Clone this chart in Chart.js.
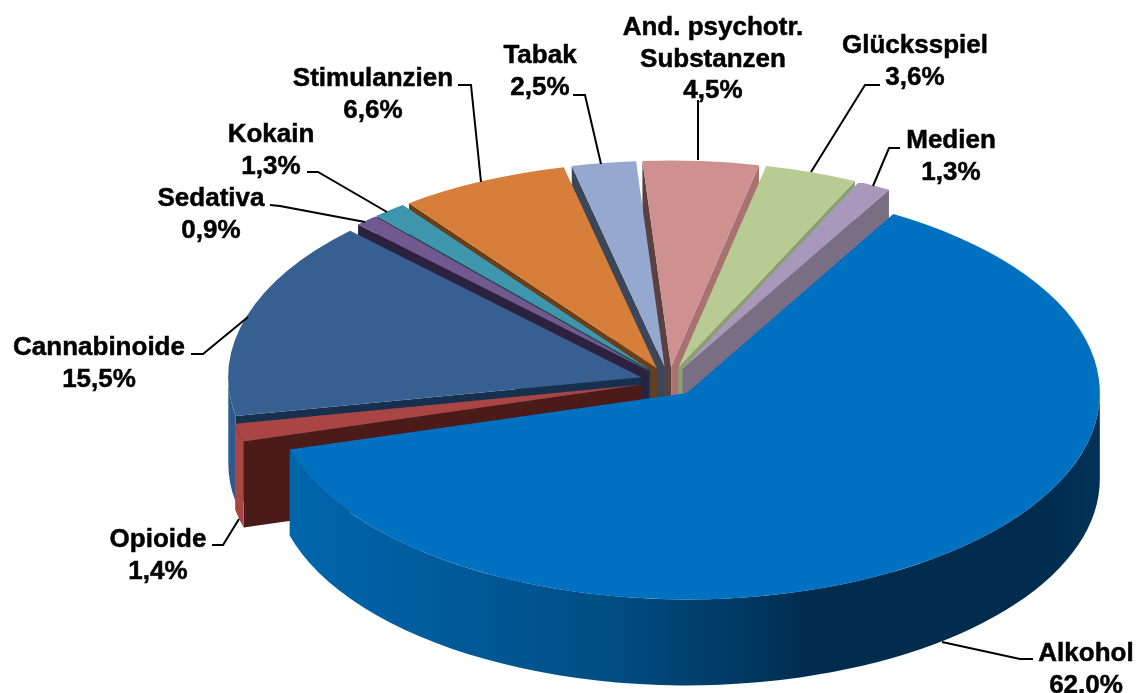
<!DOCTYPE html>
<html lang="de">
<head>
<meta charset="utf-8">
<title>Hauptdiagnosen</title>
<script src="https://cdn.jsdelivr.net/npm/chart.js@4"></script>
<style>
  html, body { margin: 0; background: #fff; }
  #wrap { position: relative; width: 1136px; height: 693px; overflow: hidden; }
</style>
</head>
<body>
<div id="wrap"><canvas id="pie3d"></canvas></div>
<script>
const categories = ['Alkohol', 'Opioide', 'Cannabinoide', 'Sedativa', 'Kokain',
    'Stimulanzien', 'Tabak', 'And. psychotr. Substanzen', 'Glücksspiel', 'Medien'];
const shares = [62.0, 1.4, 15.5, 0.9, 1.3, 6.6, 2.5, 4.5, 3.6, 1.3];

const topColors = ['#0070c0', '#a94543', '#376092', '#71588f', '#3e96ae',
    '#d77e3a', '#95a9d0', '#cf9090', '#b7cb92', '#a899bc'];
const rimColors = ['#00457c', '#a94543', '#2f5a8e', '#5a4675', '#2f7a8e',
    '#b96a2e', '#7a8cb0', '#b07a7a', '#9cb07c', '#8f82a0'];
const startFaceColors = ['#00345c', '#4a1b18', '#17304d', '#2c2240', '#1f4b57',
    '#6a3e16', '#3b4759', '#5a4040', '#7f9266', '#6b6078'];
const endFaceColors = ['#00345c', '#4a1b18', '#17304d', '#2c2240', '#1f4b57',
    '#6a3e16', '#4a5670', '#a87272', '#8aa070', '#7a6e85'];

// label text blocks: one entry per slice
const labelLines = [['Alkohol', '62,0%'], ['Opioide', '1,4%'], ['Cannabinoide', '15,5%'],
    ['Sedativa', '0,9%'], ['Kokain', '1,3%'], ['Stimulanzien', '6,6%'], ['Tabak', '2,5%'],
    ['And. psychotr.', 'Substanzen', '4,5%'], ['Glücksspiel', '3,6%'], ['Medien', '1,3%']];
const labelCenters = [[1086, 654], [158, 540], [99, 348], [211, 199], [271, 135],
    [373, 79], [540, 56], [713, 28], [915, 46], [951, 141]];
const labelLineGap = 31.5;
const leaderLines = [
    [[1033, 659], [1020, 659], [942, 642]],
    [[212, 545], [223, 545], [239, 519]],
    [[191, 354], [203, 354], [248, 317]],
    [[270, 205], [280, 206], [365, 222]],
    [[307, 172], [318, 172], [387, 212]],
    [[458, 85], [471, 85], [481, 182]],
    [[573, 95], [585, 95], [601, 164]],
    [[698, 100], [698, 160]],
    [[880, 85], [865, 85], [811, 172]],
    [[900, 148], [889, 148], [873, 186]]
];

const SQUASH = 0.5;
const DEPTH = 86;
const RADIUS = 413;
const EXPLODE = 29;
const ROTATION = 30;

function drawWalls(chart) {
    const ctx = chart.ctx;
    const arcs = chart.getDatasetMeta(0).data;
    const order = arcs.map((el, i) => i).sort((a, b) =>
        Math.sin((arcs[a].startAngle + arcs[a].endAngle) / 2) - Math.sin((arcs[b].startAngle + arcs[b].endAngle) / 2));

    order.forEach(i => {
        const el = arcs[i];
        const mid = (el.startAngle + el.endAngle) / 2;
        const x0 = el.x + Math.cos(mid) * EXPLODE;
        const y0 = el.y + Math.sin(mid) * EXPLODE * SQUASH;

        const face = (angle, color) => {
            const xr = x0 + Math.cos(angle) * RADIUS;
            const yr = y0 + Math.sin(angle) * RADIUS * SQUASH;
            ctx.beginPath();
            ctx.moveTo(x0, y0);
            ctx.lineTo(xr, yr);
            ctx.lineTo(xr, yr + DEPTH);
            ctx.lineTo(x0, y0 + DEPTH);
            ctx.closePath();
            ctx.fillStyle = color;
            ctx.fill();
        };
        if (Math.cos(el.startAngle) < 0) face(el.startAngle, startFaceColors[i]);
        if (Math.cos(el.endAngle) > 0) face(el.endAngle, endFaceColors[i]);

        // rim only where the circle faces the viewer
        const a1 = Math.max(el.startAngle, 0);
        const a2 = Math.min(el.endAngle, Math.PI);
        if (a2 > a1) {
            ctx.beginPath();
            ctx.ellipse(x0, y0, RADIUS, RADIUS * SQUASH, 0, a1, a2);
            ctx.ellipse(x0, y0 + DEPTH, RADIUS, RADIUS * SQUASH, 0, a2, a1, true);
            ctx.closePath();
            if (i === 0) {
                const grad = ctx.createLinearGradient(289, 0, 1100, 0);
                grad.addColorStop(0, '#0066ab');
                grad.addColorStop(0.15, '#005d9f');
                grad.addColorStop(0.38, '#004f86');
                grad.addColorStop(0.51, '#003f6d');
                grad.addColorStop(0.64, '#002d4f');
                grad.addColorStop(0.92, '#002b4d');
                grad.addColorStop(1, '#003358');
                ctx.fillStyle = grad;
            } else {
                ctx.fillStyle = rimColors[i];
            }
            ctx.fill();
        }
    });
}

const pie3dPlugin = {
    id: 'pie3d',
    beforeDatasetsDraw(chart) {
        drawWalls(chart);
    },
    // tops are drawn here so each arc can be squashed and pulled out by the same gap
    beforeDatasetDraw(chart) {
        const ctx = chart.ctx;
        chart.getDatasetMeta(0).data.forEach(el => {
            const mid = (el.startAngle + el.endAngle) / 2;
            ctx.save();
            ctx.translate(0, el.y);
            ctx.scale(1, SQUASH);
            ctx.translate(Math.cos(mid) * EXPLODE, Math.sin(mid) * EXPLODE - el.y);
            el.draw(ctx);
            ctx.restore();
        });
        return false;
    },
    afterDraw(chart) {
        const ctx = chart.ctx;
        ctx.save();
        ctx.strokeStyle = '#000';
        ctx.lineWidth = 2;
        leaderLines.forEach(pts => {
            ctx.beginPath();
            pts.forEach((p, n) => n ? ctx.lineTo(p[0], p[1]) : ctx.moveTo(p[0], p[1]));
            ctx.stroke();
        });
        ctx.fillStyle = '#000';
        ctx.lineWidth = 0.5;
        ctx.font = 'bold 26px "Liberation Sans", Arial, sans-serif';
        ctx.textAlign = 'center';
        ctx.textBaseline = 'middle';
        labelLines.forEach((lines, i) => {
            lines.forEach((line, n) => {
                ctx.fillText(line, labelCenters[i][0], labelCenters[i][1] + n * labelLineGap);
                ctx.strokeText(line, labelCenters[i][0], labelCenters[i][1] + n * labelLineGap);
            });
        });
        ctx.restore();
    }
};

new Chart(document.getElementById('pie3d'), {
    type: 'pie',
    data: {
        labels: categories,
        datasets: [{
            data: shares,
            backgroundColor: topColors,
            borderWidth: 0,
            hoverOffset: 0
        }]
    },
    options: {
        responsive: true,
        maintainAspectRatio: false,
        animation: false,
        rotation: ROTATION,
        radius: RADIUS,
        // puts the pie centre at (669, 381.5)
        layout: { padding: { left: 202, top: 70 } },
        plugins: {
            legend: { display: false },
            tooltip: { enabled: false }
        }
    },
    plugins: [pie3dPlugin]
});
</script>
</body>
</html>
